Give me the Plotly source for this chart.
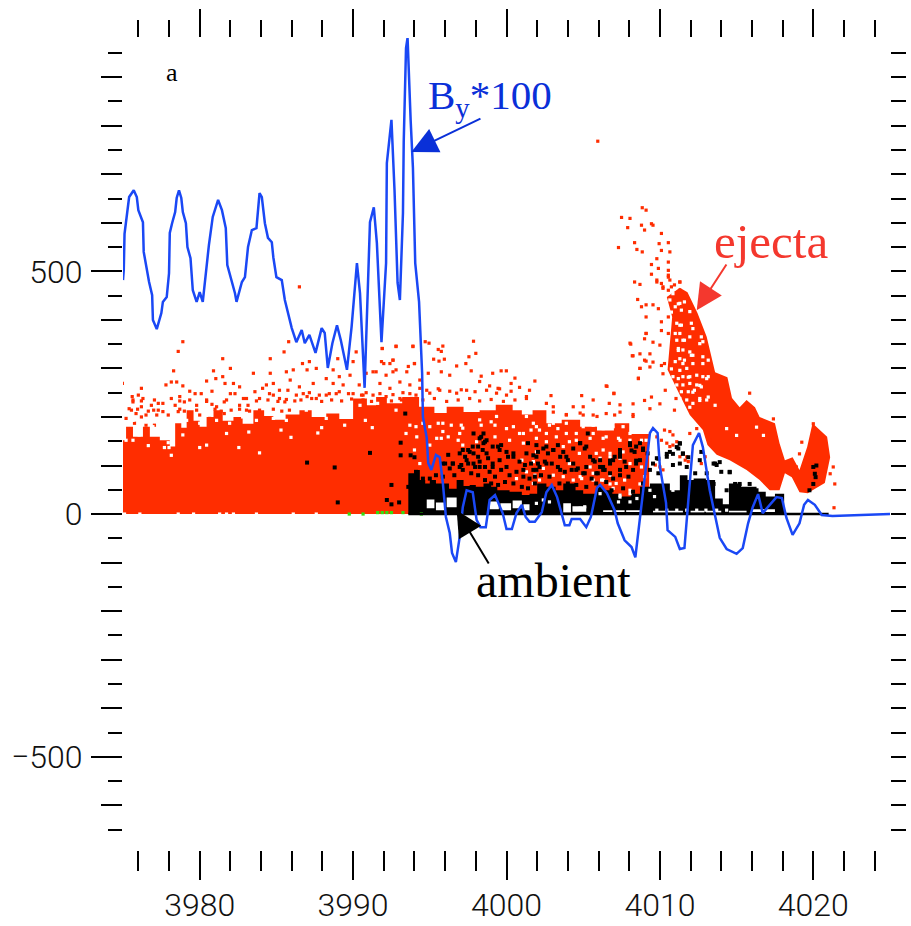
import plotly.graph_objects as go

RED = "#ff2d00"
BLUE = "#1a48f5"

by_x = [3975.0,3975.05,3975.1,3975.2,3975.4,3975.7,3975.9,3976.0,3976.3,3976.35,3976.5,3976.7,3976.9,3976.95,3977.2,3977.5,3977.6,3977.85,3978.0,3978.05,3978.2,3978.4,3978.5,3978.65,3978.8,3978.9,3979.1,3979.2,3979.4,3979.55,3979.8,3980.0,3980.2,3980.45,3980.6,3980.85,3981.1,3981.2,3981.45,3981.7,3981.8,3982.1,3982.3,3982.4,3982.75,3982.95,3983.15,3983.4,3983.7,3983.9,3984.05,3984.25,3984.45,3984.7,3984.8,3985.0,3985.35,3985.55,3985.75,3986.0,3986.3,3986.65,3986.85,3987.15,3987.55,3987.95,3988.15,3988.35,3988.65,3988.95,3989.2,3989.6,3989.9,3990.25,3990.45,3990.75,3991.1,3991.35,3991.55,3991.85,3992.15,3992.2,3992.5,3992.7,3992.9,3993.05,3993.25,3993.3,3993.45,3993.55,3993.75,3993.9,3994.05,3994.3,3994.5,3994.55,3994.8,3994.9,3995.1,3995.4,3995.65,3995.85,3996.05,3996.3,3996.45,3996.7,3996.95,3997.15,3997.4,3997.8,3998.05,3998.3,3998.65,3998.9,3999.25,3999.75,4000.0,4000.35,4000.65,4001.0,4001.25,4001.5,4001.85,4002.3,4002.6,4002.95,4003.3,4003.65,4003.8,4004.1,4004.25,4004.8,4005.2,4005.5,4005.9,4006.1,4006.55,4007.05,4007.25,4007.7,4008.15,4008.4,4008.7,4009.15,4009.35,4009.55,4009.85,4010.0,4010.4,4010.5,4011.0,4011.3,4011.6,4011.75,4011.95,4012.15,4012.55,4012.8,4013.25,4013.6,4013.9,4014.35,4015.0,4015.4,4015.75,4016.05,4016.4,4016.7,4017.15,4017.6,4017.95,4018.25,4018.65,4019.1,4019.4,4019.65,4020.1,4020.55,4021.25,4025.0]
by_y = [482,503,577,601,653,667,653,626,601,540,513,478,451,400,381,414,437,447,496,579,599,622,651,667,651,622,599,550,527,461,437,457,437,519,554,612,636,647,626,589,513,478,455,437,478,488,550,585,589,661,653,599,569,560,529,488,482,441,414,383,354,379,352,369,332,383,373,301,352,389,358,297,385,517,455,260,601,632,558,354,517,723,812,667,476,441,620,766,960,981,812,713,517,437,290,200,157,105,91,122,117,64,-6,-39,-80,-99,-47,14,49,45,-12,-27,-27,29,39,2,-31,-31,2,19,-6,-16,-16,4,45,60,35,-6,-23,-23,-10,-10,-27,-6,54,60,43,8,-19,-54,-68,-89,-8,117,167,177,167,97,23,-33,-47,-72,-70,-12,64,142,167,138,49,-2,-49,-72,-82,-70,-19,14,41,2,19,35,33,-8,-43,-19,19,29,19,-2,-4,0]

red_fill_x = [3974.9,3975.2,3975.65,3976.3,3976.75,3977.4,3978.05,3978.4,3978.8,3979.15,3979.6,3980.0,3980.45,3980.9,3981.5,3982.2,3982.8,3983.5,3984.2,3984.8,3985.6,3986.5,3987.3,3988.25,3989.1,3990.0,3990.9,3991.5,3992.2,3993.2,3994.3,3994.6,3995.3,3996.1,3997.2,3998.25,3999.3,4000.4,4001.0,4001.7,4002.6,4003.6,4004.8,4005.9,4007.0,4008.0,4009.3]
red_fill_top = [152,180,159,180,159,152,139,187,178,214,192,180,200,214,192,200,186,214,202,194,205,214,200,207,196,238,224,241,228,241,221,221,208,221,210,214,225,214,205,214,187,194,180,172,187,165,146]

red_dots_x = [3974.96,3978.9,3978.6,3981.5,3978.3,3980.9,3982,3981.5,3981.05,3983.5,3984.6,3985.5,3985.8,3984.6,3984.8,3986.1,3985.65,3986.7,3987.15,3987,3987.6,3988.7,3989,3990.2,3991.9,3992.8,3993.9,3991.85,3992.6,3991.3,3990,3977.8,3978.15,3978.5,3978.9,3980.45,3980.8,3981.65,3982.2,3982.6,3976.2,3976,3975.6,3975.4,3975.65,3976.3,3976.85,3977.3,3977.6,3977,3976.2,3978.7,3979,3979.35,3979.7,3980.1,3980.45,3980.8,3981.6,3982,3982.3,3983.05,3983.6,3984.1,3984.35,3984.55,3984.8,3985.2,3985.75,3986.5,3985.9,3987.4,3988.25,3989.1,3989.8,3990.85,3991.5,3992.15,3992.6,3993.5,3994,3993.05,3993.7,3994.35,3988.7,3989.35,3990.4,3991.75,3992.4,3986.3,3987,3987.6,3988.25,3988.9,3989.7,3990.65,3991.3,3992.15,3993.05,3994.1,3985.2,3985.55,3983.9,3983.15,3982.6,3981.1,3979.8,3978.4,3977.95,3978.6,3977.6,3975.85,3976.2,3976.5,3977.2,3975.2,3975.75,3976.5,3977.05,3980,3980.65,3981.6,3983.05,
3997.85,3994.7,3994.95,3995.85,3995.55,3995.75,3998,3997.55,3995.25,3995.6,3995.95,3997.35,3996.75,3994.9,3995.75,3997.7,3999.1,3999.65,3999.99,3998.35,3996.3,4000.55,4001.85,3998.25,3998.9,3999.45,4000.3,4000.85,4001.5,4006.5,4007,4004.9,4002.9,4005.65,4001.3,4000,3999.35,3997.4,3996.75,3995.65,3995,3994.35,4007.4,4006.7,4005,4004.35,4003.05,4008.05,4009.1,4008.25,4009,4008.7,4008.6,3992.6,3992.8,3992.4,3992,3993.6,3994,3993.9,3992.8,3991.9,4005.9,4007.05,4008.25,4005,4003.9,4002.6,
4008.85,4009.1,4007.5,4008.05,4007.9,4008.8,4009.45,4009.55,4009,4008.35,4007.3,4008.5,4008.85,4010.1,4009.95,4010.55,4010.1,4010.65,4009.8,4010.55,4009.45,4009.9,4010.55,4009.45,4010.55,4009.8,4008.35,4008.7,4010.2,4010.75,4011.3,4008.55,4009.1,4008.8,4009.55,4009.9,4009.1,4010.1,4010.55,4010.1,4009.1,4009.55,4010,4010.55,4008.1,4009,4008.7,4008.2,4009.35,4009.1,4009.55,4009.35,4010.1,4008.7,4008.6,4010.3,4010.2,4006.55,4007,4008.25,4009,4009.45,4010.35,4011.05,4010.95,4010,4009.35,4015.85,4017.4,4019.25,4021.3,4021.4,4021.35,4020,4021.1,4019.1,4018.9,4005.95,3986.5,
4009.8,4010.1,4010.2,4010.55,4010.65,4010.95,4011.3,4010.55,4010.86,4011.3,
4009.8,4010.3,4010.65,4010.85,4011.1,4010.85,4011.95,4012.4,4011.75,4011.85,4010.2,4010.65,4010.45,4010.1,4011.3,4011.65,4009.7,4010,4012.7,4012.95,4012.95,4013.15,4013.25,
3986.75,3987.15,3987.8,3988.45,3989.1,3990,3990.55,3990.85,3991.75,3992.6,3993.25,3993.7,
3975.65,3976.2,3977.05,3978.15,3978.7,3979.35,3980.45,3981.75,3982.85,3983.7,3984.45,3985.1,3985.65,3986.2,3986.6,3987.3,3987.95,3988.6,3989.25,3989.9,3990.65,3991.2,3991.95,3992.5,3993.15,3993.8,
3975.55,3975.95,3976.65,3977.3,3978.7,3979,3979.8,3981,3981.4,3982.05,3982.6,3983.25,3983.9,3984.8,3985.35,3985.85,
3994.55,3995.3,3996.1,3996.85,3997.6,3998.25,3999,3999.8,4000.55,4001.3,
3994.8,3995.55,3996.3,3997.05,3997.95,3998.7,3999.55,4000.3,
4002.15,4003.05,4003.9,4004.8,4005.65,4006.5,4007.4,4008.25]
red_dots_y = [269,355,335,320,295,295,300,283,279,290,320,334,355,290,269,297,293,310,314,297,300,297,320,334,341,346,346,314,317,293,314,266,272,272,264,274,253,269,269,262,259,245,242,217,231,238,224,228,228,214,221,242,231,253,248,248,235,226,231,248,248,238,252,259,266,248,245,255,255,262,276,269,279,283,286,290,293,286,293,293,310,272,266,276,269,266,266,269,259,245,242,238,245,248,248,245,245,242,238,245,238,231,238,224,224,221,224,224,204,211,211,207,200,204,204,197,187,183,183,204,197,207,214,
356,355,352,346,339,335,331,324,319,315,319,310,305,290,293,295,290,295,295,284,286,280,274,273,264,259,269,261,255,264,249,244,244,235,242,245,249,255,249,255,249,259,225,228,221,221,221,352,372,326,317,300,280,317,297,310,310,304,310,345,345,341,201,204,201,204,204,228,
631,626,611,609,590,595,598,595,585,559,549,545,540,578,557,559,543,540,526,519,514,506,502,494,488,482,478,473,468,468,478,442,431,427,431,423,406,396,406,378,372,354,348,372,350,361,330,326,330,315,313,303,306,300,279,310,289,263,248,227,234,241,255,238,214,227,217,249,196,148,97,62,13,186,83,124,97,768,468,
478,475,465,492,482,472,478,461,451,461,
159,173,170,163,149,142,166,176,118,108,91,139,146,152,118,111,101,97,104,118,180,166,152,
248,250,245,248,252,248,245,250,248,246,250,248,
235,233,235,238,233,235,232,235,238,233,235,232,236,233,235,238,232,235,233,237,235,232,236,233,235,238,
214,216,212,214,216,212,214,216,212,214,216,212,214,216,212,214,
235,238,232,235,238,233,236,232,235,238,
255,258,253,256,252,255,258,253,
207,210,205,208,204,207,210,205]

ejecta_x = [4010.45,4011.3,4011.8,4012.45,4013.05,4013.6,4014.4,4014.7,4015.2,4015.65,4016.2,4016.5,4017.5,4017.8,4018.15,4018.65,4019.1,4019.6,4019.95,4020.9,4021.1,4020.75,4019.95,4019.65,4019.1,4018.6,4018.15,4017.8,4017.15,4016.5,4015.65,4014.55,4013.7,4013.1,4012.8,4011.95,4011.3,4010.5,4010.8]
ejecta_y = [447,466,457,414,365,292,282,239,220,235,220,200,187,146,111,117,91,138,187,159,117,64,49,43,45,76,84,49,49,70,91,111,122,142,173,204,245,297,406]

black_fill_x = [3993.6,3994.0,3994.35,3994.7,3995,3995.4,3995.85,3996.25,3996.75,3997.2,3997.6,3998,3998.5,3999,3999.4,4000.2,4001,4001.5,4002,4002.6,4003.2,4003.7,4004.5,4005,4005.85,4006.3,4006.9,4007.5,4008.1,4008.7,4009.35,4010,4010.65,4011.3,4011.8,4012.2,4013,4013.6,4014.1,4014.5,4015.3,4016.3,4016.9,4017.5,4018.1]
black_fill_top = [84,91,70,63,70,63,63,52,70,58,60,56,63,56,49,46,39,42,63,56,49,63,49,42,56,49,42,36,42,56,63,63,49,80,70,73,70,32,20,63,56,46,36,42,4]

gap_start = [3994.8,3995.4,3996.1,3998.9,3999.6,4000.4,4001.1,4003.7,4004.3,4006.3,4007.0,4007.8,4009.55,4010.5,4012.0,4013.0,4014.5,4016.0]
gap_end = [3995.3,3996.0,3996.75,3999.5,4000.3,4001.0,4001.5,4004.2,4005.2,4006.9,4007.7,4008.7,4010.4,4011.5,4012.9,4014.0,4015.65,4017.5]
gap_low = [12,8,14,10,8,12,8,3,5,4,4,4,3,3,3,3,3,4]
gap_high = [30,24,34,26,22,28,20,22,16,8,8,8,7,7,7,7,7,10]

black_dots_x = [3987,3988.8,3991.1,3992.5,3989,3992.2,3992.5,3993,3993.4,3993.1,3993.1,3993.75,3994,3993.6,
3998.5,3998.25,3998.7,3997.85,3998.5,3998.15,3997.15,3997.5,3997.85,3998.7,3999.1,3999.45,4000,4000.45,3999.55,3999.1,3998.25,3997.85,3997.4,3996.95,3996.5,3996.2,3995.85,4001.4,4001.95,4002.6,4003.05,4001.3,4001.95,4002.6,4003.5,4003.9,4004.35,4004.8,4005.2,4005.65,4006.1,4006.3,4005.2,4004.55,4003.5,4002.15,4001.75,4001.1,4006.95,4008.05,4008.45,4008.9,4007.4,4007.8,4008.45,4007.4,4006.75,4005.85,4005,
4008.05,4008.15,4011.3,4011.1,4011.5,4010.85,4011.85,4010.45,4008.9,4007.4,4006.75,4006.3,4008.45,4009.9,
4013.6,4013.9,4014.55,4014.9,4015.2,4015.85,4014.35,4015.65,4016.3,4013.5,4020,4020.1,4020,4019.75,4020.2,4020.15,
3996.95,3997.3,3997.6,3997.8,3998.35,3998.6,3998.45,3998.15,3998.8,3999.1,3999.55,3999.65,4000.1,4000.45,4000.85,4001.2,4001.6,4001.95,3996.5,3996.3,3996,3997.05,3997.5,3997.95,3998.25,3998.6,3998.9,3999.25,3999.65,4000,4000.2,4000.65,4001.1,4001.5,4001.85,3997.15,3997.7,3998.15,3998.6,3999,3999.45,3999.9,4000.45,4001,4001.4,3996.6,3995.85,3995.4,3995,3994.55,3994.1,3994.35,
4001.75,4002.05,4002.4,4002.7,4003.05,4003.35,4003.7,4004,4004.35,4004.8,4005.1,4005.3,4005.45,4005.75,4006.1,4006.4,4006.75,4007.05,4007.4,4007.7,4008.05,4008.35,4008.7,4008.25,4007.95,4007.4,4006.95,4006.5,4005.95,4005.55,4005.1,4004.65,4004.25,4003.8,4003.35,4002.95,4002.5,4002.05,4001.85,4002.25,4002.8,4003.45,4004,4004.55,4005.2,4005.85,4006.85,4007.6,4008.25,4008.9,4009.35,4009.65,4009.2,4008.7,
4011.3,4011.2,4011.5,4010.65,4010.45,4009.8,4009.55,4009.9,4010.85,4011.3,4011.75,4012.3,4012.7,4012.6,4013.5,4013.7,4014.55,4014,4013.05]
black_dots_y = [106,96,126,60,24,29,20,24,207,147,121,121,117,56,
166,156,152,166,146,139,132,132,125,125,139,139,128,118,111,97,97,104,111,97,104,122,104,146,142,139,132,125,118,104,118,118,104,146,139,111,111,91,97,91,91,97,91,91,111,146,139,132,118,97,104,91,84,84,84,
145,131,145,138,124,124,117,124,135,124,110,97,110,114,
104,107,86,62,62,62,49,42,49,62,97,83,62,49,100,76,
125,118,128,139,159,149,132,118,115,104,132,142,118,125,108,101,104,91,104,94,104,101,104,97,108,97,87,77,91,97,80,87,77,73,63,91,84,80,70,63,60,66,63,56,53,80,77,80,73,73,87,63,
121,128,135,125,132,142,128,111,135,146,135,166,118,108,97,91,104,118,132,108,142,128,111,91,77,80,73,66,84,73,84,94,91,87,97,104,108,104,77,80,77,63,63,60,56,63,49,53,46,63,91,56,125,146,
146,135,125,128,118,115,104,84,101,104,97,84,128,111,104,101,87,87,84]

white_dots_x = [3976.65,3977.7,3978,3978.15,3980,3980.45,3982.55,3983.9,3985.95,3989.45,3991.25,3990.8,3987.95,3985.3,3987.7,3983.2,3981.75,3978.9,3977.95,3975.65,3975.2,3976.05,
3975.1,3976.1,3978.6,3979.6,3981.3,3981.75,3982.2,3983.7,3986.1,3987.6,
3975.65,3976.5,3976.95,3977.5,3978.05,3979.15,3980,3981.1,3981.95,3982.8,3983.7,3984.8,3985.65,3986.95,3988.25,3989.45,3990.45,3991.6,3992.8,3993.7,3993.45,3994.1,
3994.55,3995,3995.55,3995.85,3996.2,3995.45,3996.95,3997.15,3998.25,3999.35,3999.25,4000.45,4001.3,4001.1,4001.95,4002.6,4003.05,4003.9,4004.55,4005,4005.65,4006.3,4006.95,4007.4,4008.05,4008.8,4005.85,4006.75,4007.6,4003.7,4004.75,4006.3,4006.95,4005.65,4004.8,
4007.4,4008.05,4006.75,4008.7,4009.35,4009.8,4010.45,4011.1,4011.75,4012.4,4013,4013.7,4014.35,4010.85,4010.55,
3995.85,3996.4,3997.05,3998.35,3999,4000,4000.85,4001.6,3995.75,3996.85,3998.05,3997.15,3999.25,4000.2,4001.1,4001.95,3995,3994.15,3994,4001,4001.3,4000.65,4001.85,3994.35,
4001.75,4002.15,4002.8,4003.35,4003.9,4004.55,4005.1,4005.65,4006.3,4006.95,4007.6,4008.25,4009,4009.55,4009.9,4001.95,4002.6,4003.25,4004.1,4005.45,4006.5,4007.3,4008.05,4009.1,4006.3,4006.75,4007.4,4008.05,4006.1,4004.1,4001.75,4001.95,4002.4,4002.15,4001.75,4003.05,4003.7,4004.35,4004.9,4005.45,4005.65,4006.2,4006.75,4007.15,4007.7,4007.4,4008.05,4008.5,4008.05,4007.3,4004.8,4005.1,4003.9,4002.4,4002.8,4001.95,4006.1,4009,4008.8,4009.65,
4010.85,4011.2,4010.75,4011.3,4011,4011.5,4011.2,4011.95,4012.05,4012.6,4011.5,4012.15,4012.8,4011.85,4013.05,4012.6,4012.15,4013.15,4011.95,4012.6,4013.6,4014.35,4015,4016.3,4016.75,4010.75,
4011.1,4011.4,4011.3,4011.1,4011.6,4012.15,4012.05,4011.95,4011.4,4011.2,4011.5,4011.95,4011.3,4011,4011.6,4012.15,4011.75,4011.3,4010.85,4011.2,4011.5,4011.95,4012.4,4012.8,4013.15,4011.1,4011.5,4011.95,4012.4,4011.4,4011.85,4012.25,4012.7,4013.15,4012.8,4012.7,4012.8,4011.3,4011.75,4012.15,4012.6,4013.05,4010.65,4011,4011.3,4011.6]
white_dots_y = [141,137,137,121,137,142,137,126,158,183,178,193,178,173,167,169,166,163,147,152,152,163,
0,0,0,0,0,0,0,0,0,0,
193,190,180,173,159,193,187,193,187,200,193,197,193,214,197,211,224,228,214,183,166,180,
187,180,187,170,159,156,166,177,194,201,183,180,201,166,180,166,187,166,152,180,166,156,180,152,166,152,125,118,128,139,125,70,53,70,77,
35,49,62,62,49,8,8,8,8,8,8,8,8,49,69,
187,183,183,183,190,176,166,173,156,152,149,142,159,152,146,128,142,159,132,111,87,73,80,104,
187,173,183,176,187,166,190,183,176,187,180,170,176,183,173,156,149,159,149,156,159,156,152,152,132,125,115,104,115,104,108,91,94,70,63,80,77,70,73,97,84,70,80,63,70,39,42,32,25,25,12,15,12,29,25,22,42,77,97,36,
454,433,416,389,372,358,337,365,327,351,310,310,310,282,279,265,251,241,220,234,224,176,162,179,162,299,
393,389,372,358,358,382,393,417,420,341,338,334,320,314,317,327,300,296,283,279,283,283,286,283,283,266,266,269,266,252,252,255,262,317,324,365,355,238,235,228,238,235,441,427,434,437]

green_x = [3989.75,3990.65,3991.6,3991.9,3992.2,3992.5,3993.25,3994.45]
green_y = [0,0,3,3,3,3,3,0]
zero_x = [3993.6,4021.0]
zero_y = [0,0]

gap_x, gap_y = [], []
for a, b, lo, hi in zip(gap_start, gap_end, gap_low, gap_high):
    gap_x += [a, b, b, a, a, None]
    gap_y += [lo, lo, hi, hi, lo, None]

fig = go.Figure()
fig.add_trace(go.Scatter(x=red_fill_x, y=red_fill_top, mode="lines", line=dict(shape="hv", width=0), fill="tozeroy", fillcolor=RED))
fig.add_trace(go.Scatter(x=ejecta_x, y=ejecta_y, mode="lines", line=dict(width=0), fill="toself", fillcolor=RED))
dot = lambda c, s=3.2: dict(symbol="square", size=s, color=c, line=dict(width=0))
fig.add_trace(go.Scatter(x=red_dots_x, y=red_dots_y, mode="markers", marker=dot(RED)))
fig.add_trace(go.Scatter(x=black_fill_x, y=black_fill_top, mode="lines", line=dict(shape="hv", width=0), fill="tozeroy", fillcolor="#000000"))
fig.add_trace(go.Scatter(x=gap_x, y=gap_y, mode="lines", line=dict(width=0), fill="toself", fillcolor="#ffffff"))
fig.add_trace(go.Scatter(x=white_dots_x, y=white_dots_y, mode="markers", marker=dot("#ffffff")))
fig.add_trace(go.Scatter(x=black_dots_x, y=black_dots_y, mode="markers", marker=dot("#000000", 4)))
fig.add_trace(go.Scatter(x=green_x, y=green_y, mode="markers", marker=dot("#33dd11")))
fig.add_trace(go.Scatter(x=zero_x, y=zero_y, mode="lines", line=dict(color="#000000", width=2.5)))
fig.add_trace(go.Scatter(x=by_x, y=by_y, mode="lines", line=dict(color=BLUE, width=2.5)))

XR = [3975, 4025]
YR = [-692, 980.6]
for xa, ya in [("x2", "y"), ("x", "y2"), ("x", "y3")]:
    fig.add_trace(go.Scatter(x=XR, y=YR, xaxis=xa, yaxis=ya, mode="markers", marker=dict(opacity=0, size=1), hoverinfo="skip"))

tickfont = dict(family="Roboto", size=32, color="#111111", weight=300)
common = dict(automargin=False, showgrid=False, zeroline=False, showline=False, ticks="outside", tickcolor="#000")
fig.update_layout(
    width=911, height=926, showlegend=False, paper_bgcolor="white", plot_bgcolor="white",
    margin=dict(l=123.3, r=21.1, t=38, b=76, pad=0),
    xaxis=dict(range=XR, tick0=3980, dtick=10, ticklen=29, tickwidth=1.6,
               minor=dict(ticks="outside", tick0=3980, dtick=2, ticklen=20, tickwidth=1.6, tickcolor="#000", showgrid=False),
               tickfont=tickfont, ticklabelstandoff=-2, **common),
    xaxis2=dict(range=XR, overlaying="x", side="top", tick0=3980, dtick=10, ticklen=28, tickwidth=2,
                minor=dict(ticks="outside", tick0=3980, dtick=2, ticklen=17, tickwidth=2, tickcolor="#000", showgrid=False), showticklabels=False, **common),
    yaxis=dict(range=YR, tick0=0, dtick=100, ticklen=21, tickwidth=2,
               minor=dict(ticks="outside", tick0=0, dtick=50, ticklen=14, tickwidth=2, tickcolor="#000", showgrid=False), showticklabels=False, **common),
    yaxis2=dict(range=YR, overlaying="y", side="left", tick0=0, dtick=500, ticklen=31, tickwidth=2,
                tickfont=tickfont, ticklabelstandoff=2, **common),
    yaxis3=dict(range=YR, overlaying="y", side="right", tick0=0, dtick=50, ticklen=15, tickwidth=2, showticklabels=False, **common),
)

serif = "Liberation Serif"
for text, x, y, size, color in [
    ("a", 3977.65, 910, 26, "#000000"),
    ("B<sub>y</sub>*100", 3994.75, 857, 41, "#0a30d8"),
    ("ejecta", 4013.4, 562, 49, "#f4382e"),
    ("ambient", 3997.9, -136, 48, "#000000"),
]:
    fig.add_annotation(x=x, y=y, text=text, showarrow=False, xanchor="left", yanchor="middle", font=dict(family=serif, size=size, color=color))
for hx, hy, tx, ty, color in [
    (3993.8, 746, 3998.4, 816, "#0a30d8"),
    (4012.4, 420, 4014.4, 517, "#f4382e"),
    (3996.75, 8, 3998.9, -105, "#000000"),
]:
    fig.add_annotation(x=hx, y=hy, ax=tx, ay=ty, axref="x", ayref="y", text="", showarrow=True, arrowhead=2, arrowsize=2.6, arrowwidth=2, arrowcolor=color)

fig.write_html("out.html", post_script="document.body.style.margin='0';", config=dict(displayModeBar=False))
